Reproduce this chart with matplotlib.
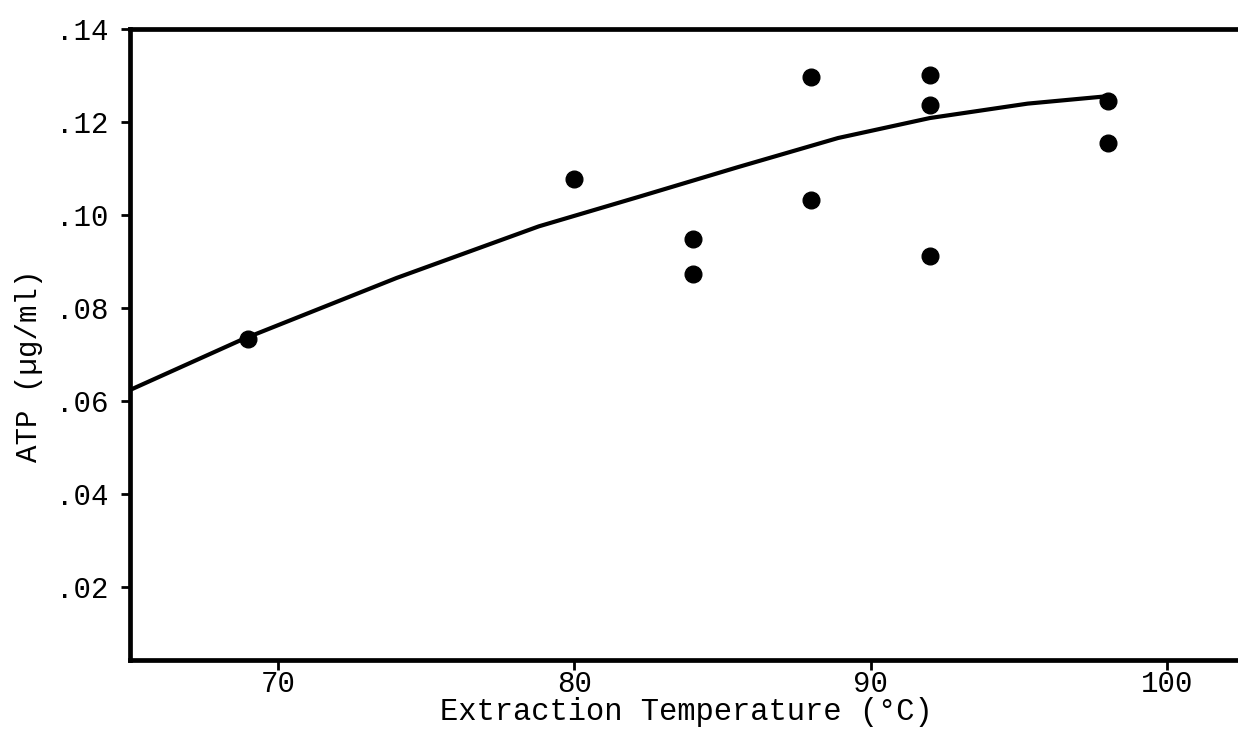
import numpy as np
import matplotlib
matplotlib.use("Agg")
import matplotlib.pyplot as plt
from matplotlib.ticker import FixedLocator, FuncFormatter

# =====================================
# Data
# =====================================

temp_c = [69, 80, 84, 84, 88, 88, 92, 92, 92, 98, 98]
atp = [0.0733, 0.1077, 0.0948, 0.0873, 0.1297, 0.1032,
       0.1301, 0.1237, 0.0912, 0.1245, 0.1155]

# fitted curve, read at a few temperatures
curve_t = [65.0, 68.8, 74.0, 78.8, 82.2, 85.5, 88.9, 92.0, 95.3, 98.0]
curve_atp = [0.0624, 0.0733, 0.0865, 0.0976, 0.1040, 0.1103,
             0.1166, 0.1209, 0.1240, 0.1256]

x_ticks = [70, 80, 90, 100]
y_ticks = [0.02, 0.04, 0.06, 0.08, 0.10, 0.12, 0.14]

# =====================================
# Figure
# =====================================

plt.rcParams["font.family"] = ["Liberation Mono", "DejaVu Sans Mono"]

fig = plt.figure(figsize=(12.38, 7.31), dpi=100)
ax = fig.add_axes([0.105, 0.097, 0.895, 0.863])

ax.plot(curve_t, curve_atp, color="black", lw=3.0, solid_capstyle="round",
        solid_joinstyle="round")
ax.plot(temp_c, atp, "o", color="black", ms=12)

ax.set_xlim(65.0, 102.4)
ax.set_ylim(0.0043, 0.14)

ax.spines["right"].set_visible(False)
for side in ["top", "left", "bottom"]:
    ax.spines[side].set_linewidth(3.4)

ax.xaxis.set_major_locator(FixedLocator(x_ticks))
ax.yaxis.set_major_locator(FixedLocator(y_ticks))
ax.yaxis.set_major_formatter(FuncFormatter(lambda v, p: ("%.2f" % v)[1:]))

ax.tick_params(axis="x", direction="out", length=7, width=2, pad=0,
               labelsize=21)
ax.tick_params(axis="y", direction="out", length=6.5, width=2, pad=9,
               labelsize=21)

ax.set_xlabel("Extraction Temperature (°C)", fontsize=22)
ax.xaxis.set_label_coords(0.502, -0.083)
ax.xaxis.label.set_va("center")

ax.set_ylabel("ATP (µg/ml)", fontsize=21)
ax.yaxis.set_label_coords(-0.091, 0.466)
ax.yaxis.label.set_va("center")

fig.savefig("out.png", dpi=100)
